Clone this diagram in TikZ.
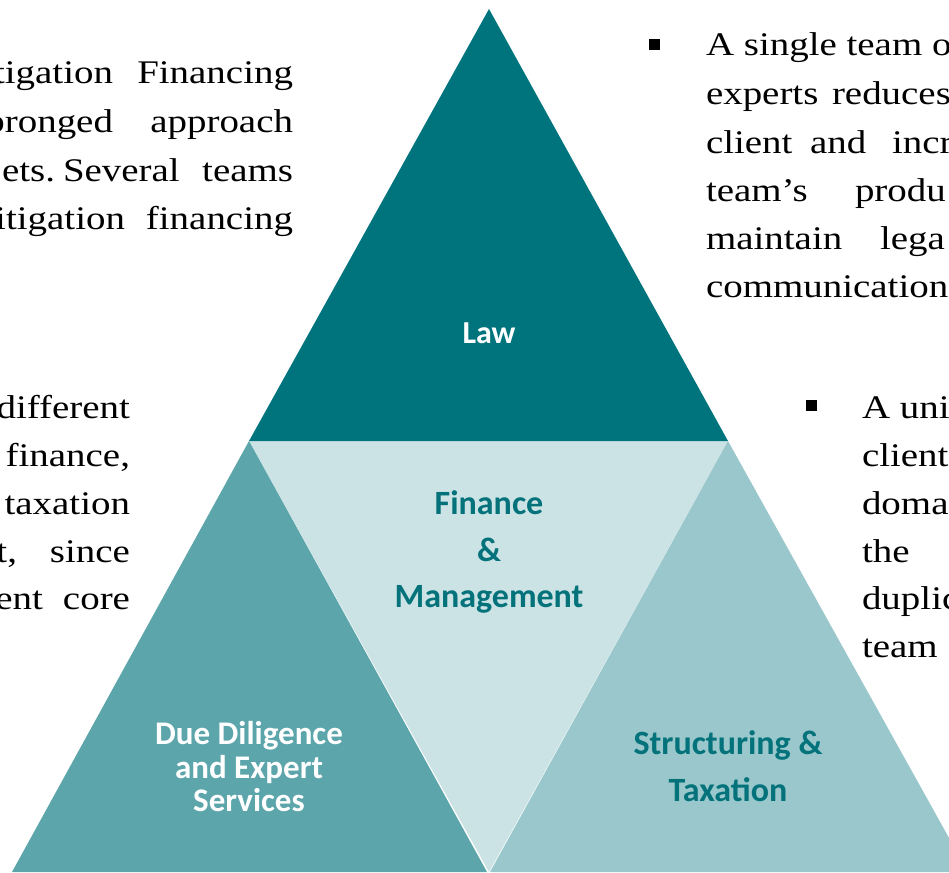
\documentclass[tikz,border=0pt]{standalone}
\usepackage{fontspec}
\setmainfont[FakeStretch=1.18]{Liberation Serif}
\newfontfamily\labfont{Carlito}
\definecolor{lawc}{HTML}{00747C}
\definecolor{ddc}{HTML}{5BA5AB}
\definecolor{fmc}{HTML}{CCE3E5}
\definecolor{stc}{HTML}{99C7CB}
\definecolor{labteal}{HTML}{03727A}
\begin{document}
\begin{tikzpicture}[x=1pt,y=-1pt,
  body/.style={inner sep=0pt,outer sep=0pt,font=\fontsize{33}{48}\selectfont},
  bw/.style={body,anchor=base west},
  be/.style={body,anchor=base east},
  bullet/.style={fill=black,draw=none,minimum size=11pt,inner sep=0pt},
  lab/.style={align=center,inner sep=0pt,font=\labfont\bfseries\fontsize{34}{46.5}\selectfont}]
\useasboundingbox (0,0) rectangle (949,872);
% triangles
\fill[fmc] (249,441) -- (728,441) -- (489,872) -- cycle;
\fill[lawc] (489,9) -- (249,441) -- (728,441) -- cycle;
\fill[ddc] (249,441) -- (12,872) -- (487,872) -- cycle;
\fill[stc] (728,441) -- (490,872) -- (968,872) -- cycle;
% labels
\node[lab,text=white,font=\labfont\bfseries\fontsize{32}{36}\selectfont] (law) at (489,333) {Law};
\node[lab,text=labteal] (fm) at (489,552) {Finance\\\&\\Management};
\node[lab,text=white,font=\labfont\bfseries\fontsize{33}{33.5}\selectfont] (dd) at (249,767) {Due Diligence\\and Expert\\Services};
\node[lab,text=labteal] (st) at (728,766) {Structuring \&\\Taxation};
% top-left block
\node[be] (tl1a) at (113,84) {tigation};
\node[be] (tl1b) at (293,84) {Financing};
\node[be] (tl2a) at (113,132) {pronged};
\node[be] (tl2b) at (293,132) {approach};
\node[be] (tl3a) at (55,181) {ets.};
\node[bw] (tl3b) at (63,181) {Several};
\node[be] (tl3c) at (293,181) {teams};
\node[be] (tl4a) at (125,229) {itigation};
\node[be] (tl4b) at (293,229) {financing};
% left-middle block
\node[be] (lm1) at (130,418) {different};
\node[be] (lm2) at (130,466) {finance,};
\node[be] (lm3) at (130,514) {taxation};
\node[be] (lm4a) at (17,562) {t,};
\node[be] (lm4b) at (130,562) {since};
\node[be] (lm5a) at (43,609) {ent};
\node[be] (lm5b) at (130,609) {core};
% top-right block
\node[bullet] (b1) at (654,45) {};
\node[bw] (tr1) at (706,56) {A single team o};
\node[bw] (tr2a) at (706,104) {experts};
\node[bw] (tr2b) at (832,104) {reduces};
\node[bw] (tr3a) at (706,153) {client};
\node[bw] (tr3b) at (810,153) {and};
\node[bw] (tr3c) at (892,153) {incr};
\node[bw] (tr4a) at (706,201) {team’s};
\node[bw] (tr4b) at (855,201) {produ};
\node[bw] (tr5a) at (706,249) {maintain};
\node[bw] (tr5b) at (880,249) {lega};
\node[bw] (tr6) at (706,297) {communication};
% bottom-right block
\node[bullet] (b2) at (811,405) {};
\node[bw] (br1) at (862,418) {A uni};
\node[bw] (br2) at (862,466) {client};
\node[bw] (br3) at (862,514) {doma};
\node[bw] (br4) at (862,562) {the};
\node[bw] (br5) at (862,609) {duplic};
\node[bw] (br6) at (862,657) {team};
\end{tikzpicture}
\end{document}
